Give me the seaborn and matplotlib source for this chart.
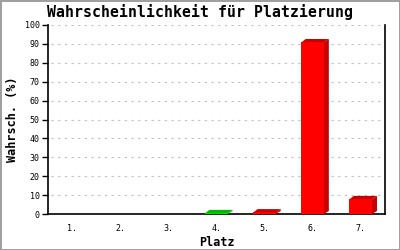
import matplotlib
matplotlib.use("Agg")
import matplotlib.pyplot as plt
import seaborn as sns
import pandas as pd
from matplotlib.patches import Polygon

places = ["1.", "2.", "3.", "4.", "5.", "6.", "7."]
values = [0, 0, 0, 0.6, 1.0, 91, 8]
front_colors = ["#ff0000", "#ff0000", "#ff0000", "#00dd00", "#ff0000", "#ff0000", "#ff0000"]
side_colors = ["#c80000", "#c80000", "#c80000", "#00b800", "#c80000", "#c80000", "#c80000"]
yticks = list(range(0, 101, 10))

title = "Wahrscheinlichkeit für Platzierung"
xlabel = "Platz"
ylabel = "Wahrsch. (%)"

sns.set_style("white")
plt.rcParams["font.family"] = ["DejaVu Sans Mono"]
plt.rcParams["text.color"] = "black"
plt.rcParams["axes.labelcolor"] = "black"
plt.rcParams["xtick.color"] = "black"
plt.rcParams["ytick.color"] = "black"

fig = plt.figure(figsize=(4, 2.5), dpi=100)
fig.patch.set_facecolor("white")
fig.patch.set_edgecolor("#a0a0a0")
fig.patch.set_linewidth(2)

ax = fig.add_axes([48 / 400, 36 / 250, 337 / 400, 189 / 250])
df = pd.DataFrame({"Platz": places, "Wert": values})
sns.barplot(data=df, x="Platz", y="Wert", hue="Platz", palette=front_colors,
            legend=False, width=0.48, ax=ax, saturation=1, zorder=3,
            linewidth=0, edgecolor="none")

ax.set_xlim(-0.5, len(places) - 0.5)
ax.set_ylim(0, 100)
ax.set_yticks(yticks)
ax.set_yticklabels([str(t) for t in yticks], fontsize=6)
ax.tick_params(axis="y", length=4, width=1, color="black", direction="out", pad=2, left=True)
ax.tick_params(axis="x", length=0, labelsize=6, pad=7)

for y in yticks[1:]:
    ax.axhline(y, color="#c0c0c0", linestyle=(0, (2, 4)), linewidth=0.8, zorder=1,
               xmin=0.01, xmax=0.99)

for side in ["left", "bottom", "right"]:
    ax.spines[side].set_visible(True)
    ax.spines[side].set_color("black")
    ax.spines[side].set_linewidth(1.2)
ax.spines["top"].set_visible(False)

# pseudo-3D depth for each bar, derived from the bar patches
bbox = ax.get_window_extent()
px_x = len(places) / bbox.width
px_y = 100 / bbox.height
dx = 4.5 * px_x
dy = 3 * px_y
bars = list(ax.patches)
for patch, col in zip(bars, side_colors):
    x0 = patch.get_x()
    w = patch.get_width()
    h = patch.get_height()
    if h <= 0:
        continue
    xr = x0 + w - 0.5 * px_x
    ht = h - 0.5 * px_y
    top = Polygon([(x0, ht), (x0 + dx, h + dy), (x0 + w + dx, h + dy), (xr, ht)],
                  closed=True, facecolor=col, edgecolor="none", zorder=2.9)
    sidep = Polygon([(xr, 0), (xr, ht), (x0 + w + dx, h + dy), (x0 + w + dx, dy)],
                    closed=True, facecolor=col, edgecolor="none", zorder=2.9)
    ax.add_patch(top)
    ax.add_patch(sidep)

ax.set_xlabel(xlabel, fontsize=8.5, fontweight="bold", labelpad=2)
ax.set_ylabel(ylabel, fontsize=8.5, fontweight="bold", labelpad=4)
fig.text(0.5, 1 - 12 / 250, title, fontsize=10.7, fontweight="bold",
         ha="center", va="center")

fig.savefig("out.png", dpi=100)
